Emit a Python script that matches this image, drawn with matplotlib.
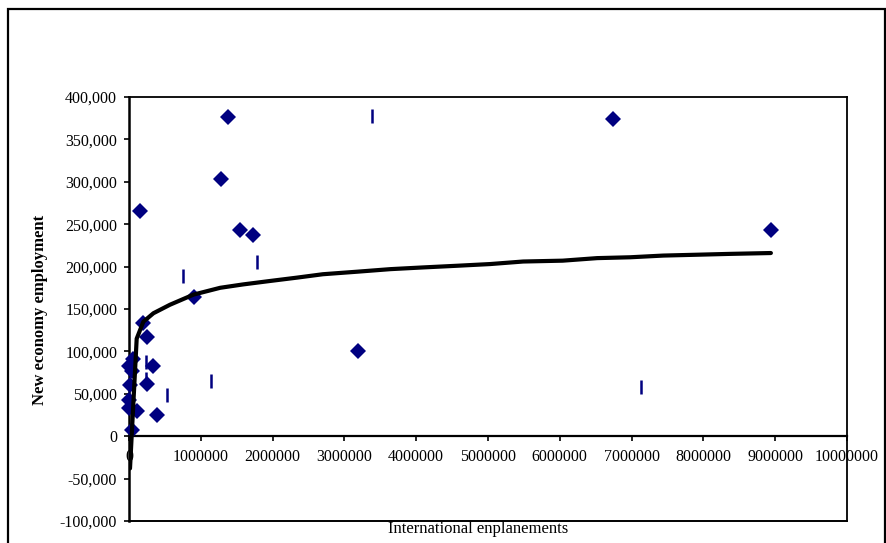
import matplotlib
matplotlib.use("Agg")
import matplotlib.pyplot as plt
from matplotlib.patches import Rectangle
from matplotlib.ticker import FixedLocator, FixedFormatter, FuncFormatter

plt.rcParams['font.family'] = ['Liberation Serif', 'DejaVu Serif']

# Diamond series: international enplanements vs new economy employment
diamond_x = [153000, 1380000, 1280000, 1550000, 1730000, 6740000, 8940000,
             3190000, 905000, 195000, 250000, 330000, 245000, 385000,
             0, 35000, 55000, 0, 5000, 110000, 40000, 20000]
diamond_y = [265000, 376000, 303000, 243000, 237000, 374000, 243000,
             100000, 164000, 133000, 117000, 83000, 61000, 25000,
             83000, 77000, 91000, 43000, 33000, 30000, 7000, 60000]

# Second series drawn with vertical-bar markers
bar_x = [3380000, 750000, 1780000, 530000, 1140000, 7130000, 235000, 235000]
bar_y = [378000, 189000, 205000, 48000, 65000, 58000, 88000, 68000]

# Fitted (logarithmic) trend line
trend_x = [14000, 107000, 200000, 340000, 570000, 900000, 1270000, 1590000,
           1960000, 2340000, 2700000, 3180000, 3640000, 4090000, 4570000,
           5030000, 5490000, 6040000, 6520000, 6980000, 7440000, 7910000,
           8370000, 8940000]
trend_y = [-38000, 115000, 135000, 145000, 155000, 167000, 175000, 179000,
           183000, 187000, 191000, 194000, 197000, 199000, 201000, 203000,
           206000, 207000, 210000, 211000, 213000, 214000, 215000, 216000]

x_ticks = [0, 1000000, 2000000, 3000000, 4000000, 5000000, 6000000,
           7000000, 8000000, 9000000, 10000000]
x_tick_labels = ["0", "1000000", "2000000", "3000000", "4000000", "5000000",
                 "6000000", "7000000", "8000000", "9000000", "10000000"]
y_ticks = [-100000, -50000, 0, 50000, 100000, 150000, 200000, 250000,
           300000, 350000, 400000]

W, H = 887, 543
fig = plt.figure(figsize=(W / 100, H / 100), dpi=100)
fig.patch.set_facecolor('white')

# outer chart frame
fig.patches.append(Rectangle((8 / W, -0.05), (885 - 8) / W, 1 - 9 / H + 0.05,
                             transform=fig.transFigure, fill=False,
                             edgecolor='black', linewidth=1.6, zorder=0))

left, right, top, bottom = 129, 847, 97, 521
ax = fig.add_axes([left / W, 1 - bottom / H, (right - left) / W, (bottom - top) / H])

ax.plot(diamond_x, diamond_y, linestyle='none', marker='D', markersize=8,
        color='#000080', markeredgewidth=0, zorder=6, clip_on=False)
ax.plot(bar_x, bar_y, linestyle='none', marker='|', markersize=10,
        markeredgewidth=1.8, color='#000080', zorder=6, clip_on=False)
ax.plot(trend_x, trend_y, color='black', linewidth=3.0, solid_capstyle='round',
        solid_joinstyle='round', zorder=7)

ax.set_xlim(0, 10000000)
ax.set_ylim(-100000, 400000)

ax.spines['bottom'].set_position(('data', 0))
for s in ['top', 'right']:
    ax.spines[s].set_linewidth(1.3)
ax.spines['left'].set_linewidth(1.8)
ax.spines['bottom'].set_linewidth(1.6)
# bottom frame line of the plot area
ax.plot([0, 1], [0, 0], transform=ax.transAxes, color='black', linewidth=1.4,
        clip_on=False, zorder=5)

ax.xaxis.set_major_locator(FixedLocator(x_ticks))
ax.xaxis.set_major_formatter(FixedFormatter(x_tick_labels))
ax.yaxis.set_major_locator(FixedLocator(y_ticks))
ax.yaxis.set_major_formatter(FuncFormatter(lambda v, p: f"{int(v):,}"))
ax.tick_params(axis='both', direction='out', length=3.5, width=1.2,
               labelsize=11.5, colors='black')
ax.tick_params(axis='y', pad=5)
ax.tick_params(axis='x', pad=6)

fig.text(40 / W, 1 - 310 / H, "New economy employment", rotation=90,
         ha='center', va='center', fontsize=12, fontweight='bold')
fig.text(478 / W, 1 - 529 / H, "International enplanements",
         ha='center', va='center', fontsize=12)

fig.savefig("out.png", dpi=100)
